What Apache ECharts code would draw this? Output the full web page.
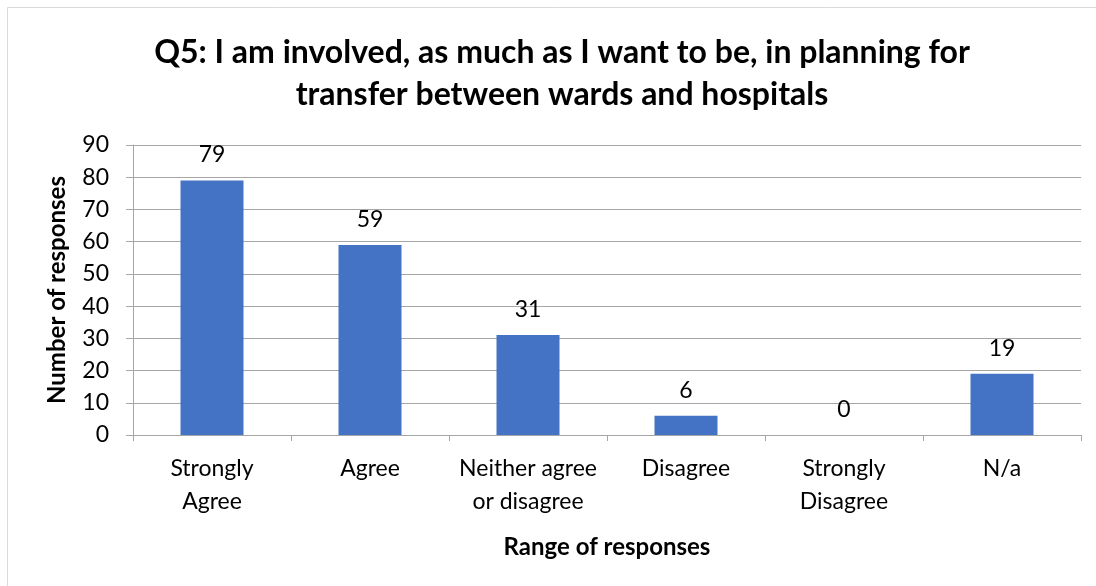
<!DOCTYPE html>
<html><head><meta charset="utf-8">
<script src="https://cdn.jsdelivr.net/npm/echarts@6/dist/echarts.min.js"></script>
<style>html,body{margin:0;padding:0;background:#fff}#c{width:1096px;height:586px}</style>
</head><body><div id="c"></div>
<script>
const categories = ["Strongly\nAgree", "Agree", "Neither agree\nor disagree", "Disagree", "Strongly\nDisagree", "N/a"];
const values = [79, 59, 31, 6, 0, 19];
const titleText = "Q5: I am involved, as much as I want to be, in planning for\ntransfer between wards and hospitals";
const yAxisName = "Number of responses";
const xAxisName = "Range of responses";

const FONT = "Lato";
const chart = echarts.init(document.getElementById('c'), null, {renderer: 'canvas'});
chart.setOption({
  animation: false,
  backgroundColor: '#fff',
  graphic: [{
    type: 'rect', shape: {x: 7.5, y: 7.5, width: 1200, height: 1200},
    style: {fill: 'none', stroke: '#d9d9d9', lineWidth: 1}, silent: true
  }],
  title: {
    text: titleText, left: 557, top: 27, textAlign: 'center',
    textStyle: {fontFamily: FONT, fontWeight: 'bold', fontSize: 32, color: '#000', lineHeight: 42}
  },
  grid: {left: 133, right: 15, top: 145, bottom: 151},
  xAxis: {
    type: 'category', data: categories,
    name: xAxisName, nameLocation: 'middle', nameGap: 100,
    nameTextStyle: {fontFamily: FONT, fontWeight: 'bold', fontSize: 24, color: '#000'},
    axisLine: {lineStyle: {color: '#a6a6a6', width: 1}},
    axisTick: {show: true, length: 6, lineStyle: {color: '#a6a6a6'}},
    axisLabel: {interval: 0, hideOverlap: false, fontFamily: FONT, fontSize: 23, color: '#000', margin: 17, lineHeight: 33}
  },
  yAxis: {
    type: 'value', min: 0, max: 90, interval: 10,
    name: yAxisName, nameLocation: 'middle', nameGap: 64,
    nameTextStyle: {fontFamily: FONT, fontWeight: 'bold', fontSize: 24, color: '#000'},
    axisLine: {show: true, lineStyle: {color: '#a6a6a6', width: 1}},
    axisTick: {show: true, length: 7, lineStyle: {color: '#a6a6a6'}},
    axisLabel: {fontFamily: FONT, fontSize: 23, color: '#000', margin: 24},
    splitLine: {lineStyle: {color: '#a6a6a6', width: 1}}
  },
  series: [{
    type: 'bar', data: values, barWidth: 63,
    itemStyle: {color: '#4472C4'},
    label: {show: true, position: 'top', distance: 14, fontFamily: FONT, fontSize: 23, color: '#000'}
  }]
});
</script></body></html>
